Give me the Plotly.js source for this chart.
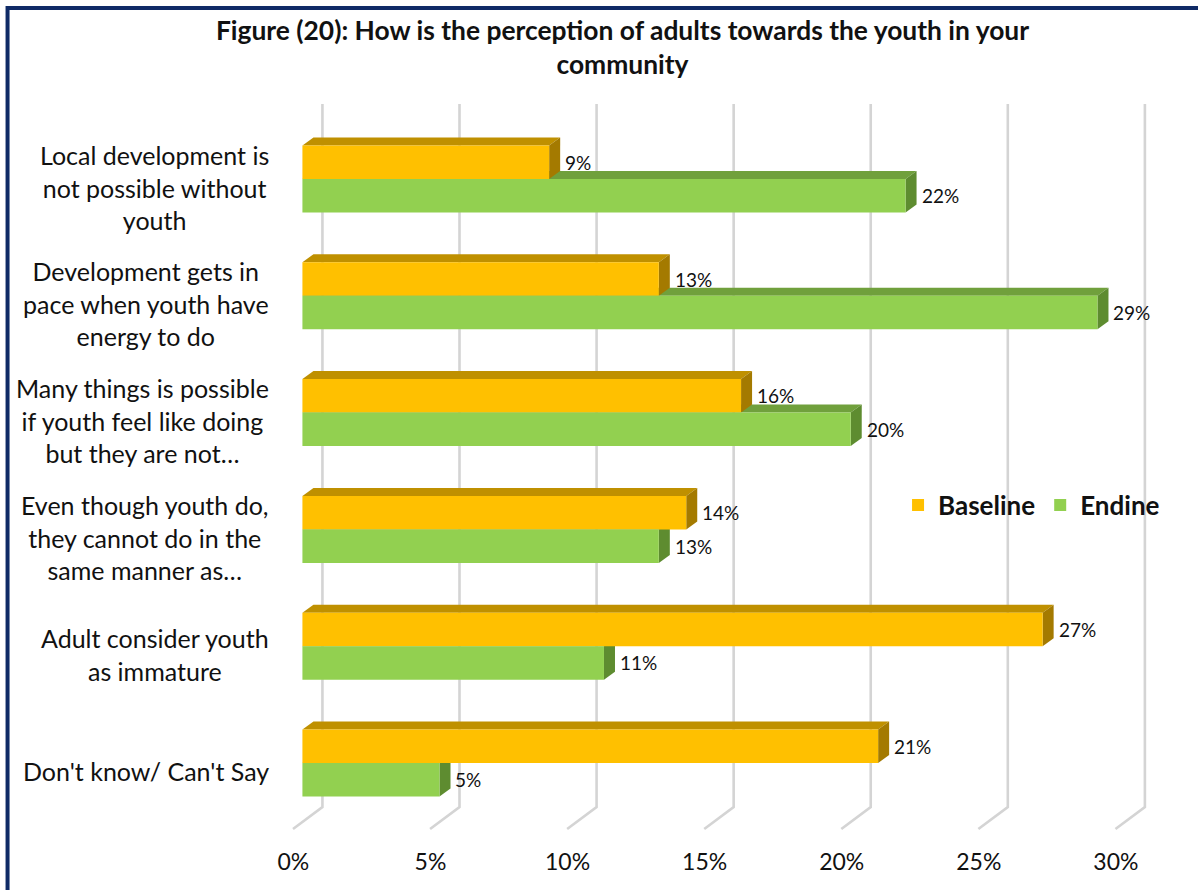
<!DOCTYPE html>
<html><head><meta charset="utf-8">
<script src="https://cdn.plot.ly/plotly-3.0.1.min.js"></script>
<style>html,body{margin:0;padding:0;background:#fff}#chart{width:1198px;height:890px}</style>
</head><body><div id="chart"></div>
<script>
// ---- data ----
const categories = [
  "Local development is<br>not possible without<br>youth",
  "Development gets in<br>pace when youth have<br>energy to do",
  "Many things is possible<br>if youth feel like doing<br>but they are not…",
  "Even though youth do,<br>they cannot do in the<br>same manner as…",
  "Adult consider youth<br>as immature",
  "Don't know/ Can't Say"
];
const baseline = [9, 13, 16, 14, 27, 21];
const endine = [22, 29, 20, 13, 11, 5];
const seriesNames = ["Baseline", "Endine"];
const xTicks = [0, 5, 10, 15, 20, 25, 30];
const xTickLabels = ["0%", "5%", "10%", "15%", "20%", "25%", "30%"];
const titleText = "Figure (20): How is the perception of adults towards the youth in your<br>community";

// ---- geometry (pixels) ----
const W = 1198, H = 890;
const PXU = 27.4;            // pixels per 1%
const X0PX = 302.7;          // pixel of 0% at bar front
const xMin = -1, xMax = 31.5;
const plotL = X0PX + xMin * PXU;
const plotR = X0PX + xMax * PXU;
const plotT = 104, plotB = 829;
const catTopPx = 179, catStep = 116.8;
const yTop = (plotT - catTopPx) / catStep;
const yBot = (plotB - catTopPx) / catStep;
const barH = 33.5 / catStep;
const DX = 11 / PXU, DY = 8 / catStep;
const idx = categories.map((c, i) => i);

const colors = {
  bFront: "#FFC000", bTop: "#BF9000", bSide: "#A47A00",
  eFront: "#92D050", eTop: "#70A03C", eSide: "#5E8C30",
  grid: "#D4D4D4", border: "#0F2A66", text: "#111111"
};

const px2paperX = p => (p - plotL) / (plotR - plotL);
const px2paperY = p => (plotB - p) / (plotB - plotT);

const shapes = [];
// gridlines: back wall vertical + floor diagonal
const backOff = 20 / PXU, frontOff = -9.4 / PXU, floorH = 22 / (plotB - plotT);
xTicks.forEach(v => {
  shapes.push({type: "path", xref: "x", yref: "paper", layer: "below",
    path: `M ${v + frontOff},0 L ${v + backOff},${floorH} L ${v + backOff},1`,
    line: {color: colors.grid, width: 2.6}});
});
// green (Endine) top faces
endine.forEach((v, i) => {
  shapes.push({type: "path", xref: "x", yref: "y", layer: "below", line: {width: 0},
    fillcolor: colors.eTop,
    path: `M 0,${i} L ${DX},${i - DY} L ${v + DX},${i - DY} L ${v},${i} Z`});
});
// orange (Baseline) top faces and side faces
baseline.forEach((v, i) => {
  const t = i - barH;
  shapes.push({type: "path", xref: "x", yref: "y", layer: "below", line: {width: 0},
    fillcolor: colors.bTop,
    path: `M 0,${t} L ${DX},${t - DY} L ${v + DX},${t - DY} L ${v},${t} Z`});
  shapes.push({type: "path", xref: "x", yref: "y", layer: "below", line: {width: 0},
    fillcolor: colors.bSide,
    path: `M ${v},${t} L ${v + DX},${t - DY} L ${v + DX},${i - DY} L ${v},${i} Z`});
});
// green side faces
endine.forEach((v, i) => {
  shapes.push({type: "path", xref: "x", yref: "y", layer: "below", line: {width: 0},
    fillcolor: colors.eSide,
    path: `M ${v},${i} L ${v + DX},${i - DY} L ${v + DX},${i + barH - DY} L ${v},${i + barH} Z`});
});
// outer border
shapes.push({type: "path", xref: "paper", yref: "paper", layer: "above",
  path: `M ${px2paperX(8)},${px2paperY(910)} L ${px2paperX(8)},${px2paperY(8)} L ${px2paperX(1220)},${px2paperY(8)}`,
  line: {color: colors.border, width: 4}});

const annotations = [];
categories.forEach((c, i) => {
  annotations.push({xref: "paper", yref: "y", x: 0, y: i, xanchor: "right", yanchor: "middle",
    xshift: -4, yshift: -8, text: c, align: "center", showarrow: false,
    font: {family: "Lato, 'Open Sans', sans-serif", size: 25, color: colors.text}});
});
baseline.forEach((v, i) => {
  annotations.push({xref: "x", yref: "y", x: v, y: i - barH / 2, xanchor: "left", yanchor: "middle",
    xshift: 14, text: v + "%", showarrow: false,
    font: {family: "Lato, sans-serif", size: 19, color: colors.text}});
});
endine.forEach((v, i) => {
  annotations.push({xref: "x", yref: "y", x: v, y: i + barH / 2, xanchor: "left", yanchor: "middle",
    xshift: 14, text: v + "%", showarrow: false,
    font: {family: "Lato, sans-serif", size: 19, color: colors.text}});
});

const traces = [
  {type: "bar", orientation: "h", name: seriesNames[0], x: baseline, y: idx,
   offset: -barH, width: barH, marker: {color: colors.bFront}, hoverinfo: "x+name"},
  {type: "bar", orientation: "h", name: seriesNames[1], x: endine, y: idx,
   offset: 0, width: barH, marker: {color: colors.eFront}, hoverinfo: "x+name"}
];

const layout = {
  width: W, height: H,
  paper_bgcolor: "#ffffff", plot_bgcolor: "rgba(0,0,0,0)",
  margin: {l: plotL, r: W - plotR, t: plotT, b: H - plotB, pad: 0},
  barmode: "overlay",
  title: {text: titleText, x: 622.5 / W, xanchor: "center", xref: "container",
          y: 1 - 40 / H, yanchor: "middle", yref: "container",
          font: {family: "Lato, sans-serif", size: 26.4, weight: "bold", color: colors.text}},
  xaxis: {range: [xMin, xMax], autorange: false, tickmode: "array", tickvals: xTicks, ticktext: xTickLabels,
          showgrid: false, zeroline: false, showline: false, ticks: "",
          ticklabelshift: -9, ticklabelstandoff: 17, fixedrange: true,
          tickfont: {family: "Lato, sans-serif", size: 23, color: colors.text}},
  yaxis: {range: [yBot, yTop], autorange: false, showgrid: false, zeroline: false,
          showline: false, showticklabels: false, ticks: "", fixedrange: true},
  showlegend: true,
  legend: {orientation: "h", x: px2paperX(898), xanchor: "left", y: px2paperY(505), yanchor: "middle",
           bgcolor: "rgba(0,0,0,0)", borderwidth: 0, traceorder: "normal",
           font: {family: "Lato, sans-serif", size: 26, weight: "bold", color: colors.text}},
  shapes: shapes,
  annotations: annotations
};

Plotly.newPlot("chart", traces, layout, {displayModeBar: false, staticPlot: true});
</script>
</body></html>
